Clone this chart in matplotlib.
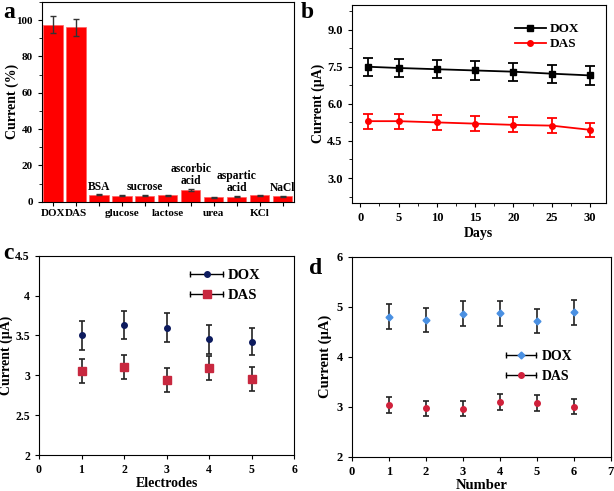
import matplotlib
matplotlib.use("Agg")
import matplotlib.pyplot as plt
from matplotlib.lines import Line2D
from matplotlib.legend_handler import HandlerBase
from matplotlib.ticker import MultipleLocator

plt.rcParams['font.family'] = ['Liberation Serif', 'DejaVu Serif']
plt.rcParams['font.weight'] = 'bold'
plt.rcParams['axes.labelweight'] = 'bold'

# ---- Panel a data ----
a_cats = ["DOX", "DAS", "BSA", "glucose", "sucrose", "lactose", "ascorbic\nacid",
          "urea", "aspartic\nacid", "KCl", "NaCl"]
a_vals = [97.5, 96.0, 3.8, 3.3, 3.3, 3.5, 6.5, 2.5, 2.8, 3.6, 3.0]
a_errs = [4.8, 4.8, 0.3, 0.3, 0.3, 0.3, 0.4, 0.2, 0.3, 0.3, 0.3]
a_below = [True, True, False, True, False, True, False, True, False, True, False]

# ---- Panel b data ----
b_days = [1, 5, 10, 15, 20, 25, 30]
b_dox = [7.50, 7.45, 7.40, 7.35, 7.30, 7.22, 7.15]
b_dox_err = [0.37, 0.37, 0.37, 0.37, 0.37, 0.37, 0.37]
b_das = [5.30, 5.30, 5.25, 5.20, 5.15, 5.12, 4.95]
b_das_err = [0.30, 0.30, 0.30, 0.30, 0.30, 0.30, 0.28]

# ---- Panel c data ----
c_x = [1, 2, 3, 4, 5]
c_dox = [3.50, 3.63, 3.60, 3.45, 3.42]
c_dox_err = [0.18, 0.18, 0.18, 0.18, 0.17]
c_das = [3.05, 3.11, 2.94, 3.09, 2.95]
c_das_err = [0.15, 0.15, 0.15, 0.15, 0.15]

# ---- Panel d data ----
d_x = [1, 2, 3, 4, 5, 6]
d_dox = [4.80, 4.73, 4.86, 4.87, 4.71, 4.89]
d_dox_err = [0.25, 0.24, 0.25, 0.25, 0.24, 0.25]
d_das = [3.04, 2.97, 2.96, 3.09, 3.07, 3.00]
d_das_err = [0.16, 0.15, 0.15, 0.16, 0.16, 0.15]


class HandlerXErr(HandlerBase):
    def create_artists(self, legend, orig_handle, xdescent, ydescent, width,
                       height, fontsize, trans):
        y = height / 2 - ydescent
        x0, x1 = -xdescent, width - xdescent
        line = Line2D([x0, x1], [y, y], color='black', lw=1.0)
        caps = Line2D([x0, x1], [y, y], ls='none', marker='|', color='black',
                      ms=4, mew=1.0)
        mk = Line2D([(x0 + x1) / 2], [y], ls='none', marker=orig_handle.get_marker(),
                    color=orig_handle.get_color(), ms=orig_handle.get_markersize())
        for art in (line, caps, mk):
            art.set_transform(trans)
        return [line, caps, mk]


fig = plt.figure(figsize=(6.14, 4.91), dpi=100)

# ================= Panel a =================
axa = fig.add_axes([0.0684, 0.589, 0.4106, 0.407])
xa = list(range(len(a_cats)))
axa.bar(xa, a_vals, width=0.85, color='#ff0000', edgecolor='#ff6060', linewidth=0.5,
        yerr=a_errs, capsize=2.5, error_kw=dict(ecolor='#333333', elinewidth=1, capthick=1))
axa.set_xlim(-0.47, 10.5)
axa.set_ylim(0, 110)
axa.set_xticks(xa)
axa.set_xticklabels([c if b else "" for c, b in zip(a_cats, a_below)], fontsize=8.3)
for i, (c, v, e, b) in enumerate(zip(a_cats, a_vals, a_errs, a_below)):
    if not b:
        axa.text(i, v + e + 1.0, c, ha='center', va='bottom', fontsize=8.3,
                 fontweight='bold', linespacing=1.0)
axa.set_yticks([0, 20, 40, 60, 80, 100])
axa.yaxis.set_minor_locator(MultipleLocator(10))
axa.tick_params(axis='both', direction='out', labelsize=8, length=3)
axa.tick_params(axis='x', pad=2)
axa.tick_params(axis='y', which='minor', direction='out', length=2)
axa.set_ylabel('Current (%)', fontsize=10)
axa.yaxis.set_label_coords(-0.09, 0.5)

# ================= Panel b =================
axb = fig.add_axes([0.573, 0.587, 0.414, 0.403])
axb.errorbar(b_days, b_dox, yerr=b_dox_err, color='black', marker='s', ms=4,
             lw=1.3, capsize=3.5, elinewidth=1.3, capthick=1.3, label='DOX')
axb.errorbar(b_days, b_das, yerr=b_das_err, color='#ff0000', marker='o', ms=4,
             lw=1.3, capsize=3.5, elinewidth=1.3, capthick=1.3, label='DAS')
axb.set_xlim(-1.1, 32.1)
axb.set_ylim(2.0, 10.0)
axb.set_xticks([0, 5, 10, 15, 20, 25, 30])
axb.set_yticks([3.0, 4.5, 6.0, 7.5, 9.0])
axb.set_yticklabels(['3.0', '4.5', '6.0', '7.5', '9.0'])
axb.xaxis.set_minor_locator(MultipleLocator(2.5))
axb.yaxis.set_minor_locator(MultipleLocator(0.75))
axb.tick_params(axis='both', which='major', direction='out', labelsize=9, length=3)
axb.tick_params(axis='both', which='minor', direction='out', length=2)
axb.set_xlabel('Days', fontsize=10, labelpad=2)
axb.set_ylabel('Current (μA)', fontsize=10, labelpad=2)
hb, lb = axb.get_legend_handles_labels()
hb = [h[0] for h in hb]
axb.legend(hb, lb, loc='upper right', frameon=False, fontsize=9.5,
           bbox_to_anchor=(0.93, 0.955), handlelength=2.3, borderpad=0.2,
           labelspacing=0.2, handletextpad=0.3)

# ================= Panel c =================
axc = fig.add_axes([0.0635, 0.0733, 0.4155, 0.4057])
axc.errorbar(c_x, c_dox, yerr=c_dox_err, fmt='o', color='#0d1b5e', ms=4,
             ecolor='#222222', elinewidth=1.2, capsize=2, capthick=1.2)
axc.errorbar(c_x, c_das, yerr=c_das_err, fmt='s', color='#c8283f', ms=6,
             ecolor='#222222', elinewidth=1.2, capsize=2, capthick=1.2)
axc.set_xlim(0, 6)
axc.set_ylim(2, 4.5)
axc.set_xticks([0, 1, 2, 3, 4, 5, 6])
axc.set_yticks([2, 2.5, 3, 3.5, 4, 4.5])
axc.set_yticklabels(['2', '2.5', '3', '3.5', '4', '4.5'])
axc.tick_params(axis='both', direction='out', labelsize=8.5, length=3)
axc.set_xlabel('Electrodes', fontsize=10, labelpad=1)
axc.set_ylabel('Current (μA)', fontsize=10, labelpad=2)
hc = [Line2D([], [], marker='o', color='#0d1b5e', ms=4),
      Line2D([], [], marker='s', color='#c8283f', ms=6)]
axc.legend(hc, ['DOX', 'DAS'], loc='upper right', frameon=False, fontsize=10.5,
           handler_map={Line2D: HandlerXErr()}, bbox_to_anchor=(0.92, 1.0),
           handlelength=2.3, labelspacing=0.45, handletextpad=0.3)

# ================= Panel d =================
axd = fig.add_axes([0.573, 0.0699, 0.4216, 0.4071])
axd.errorbar(d_x, d_dox, yerr=d_dox_err, fmt='D', color='#4a90e2', ms=3.5,
             ecolor='#222222', elinewidth=1.2, capsize=2.5, capthick=1.2)
axd.errorbar(d_x, d_das, yerr=d_das_err, fmt='o', color='#d0213b', ms=4,
             ecolor='#222222', elinewidth=1.2, capsize=2.5, capthick=1.2)
axd.set_xlim(0, 7)
axd.set_ylim(2, 6)
axd.set_xticks([0, 1, 2, 3, 4, 5, 6, 7])
axd.set_yticks([2, 3, 4, 5, 6])
axd.tick_params(axis='both', direction='out', labelsize=9, length=3)
axd.set_xlabel('Number', fontsize=10.5, labelpad=1)
axd.set_ylabel('Current (μA)', fontsize=10.5, labelpad=3)
hd = [Line2D([], [], marker='D', color='#4a90e2', ms=3.5),
      Line2D([], [], marker='o', color='#d0213b', ms=4)]
axd.legend(hd, ['DOX', 'DAS'], loc='center right', frameon=False, fontsize=10,
           handler_map={Line2D: HandlerXErr()}, bbox_to_anchor=(0.9, 0.45),
           handlelength=2.2, labelspacing=0.5, handletextpad=0.4)

# Panel letters
fig.text(0.005, 0.995, 'a', fontsize=17, fontweight='bold', va='top', ha='left')
fig.text(0.49, 0.995, 'b', fontsize=17, fontweight='bold', va='top', ha='left')
fig.text(0.005, 0.505, 'c', fontsize=17, fontweight='bold', va='top', ha='left')
fig.text(0.503, 0.475, 'd', fontsize=17, fontweight='bold', va='top', ha='left')

fig.savefig('out.png', dpi=100)
